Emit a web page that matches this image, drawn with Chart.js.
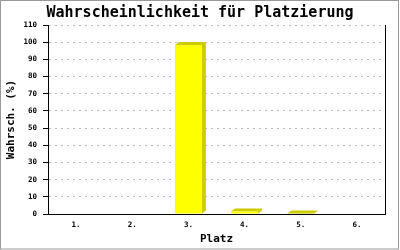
<!DOCTYPE html>
<html>
<head>
<meta charset="utf-8">
<script src="https://cdn.jsdelivr.net/npm/chart.js@4/dist/chart.umd.min.js"></script>
<style>
  html, body { margin: 0; padding: 0; background: #fff; }
  #wrap { width: 400px; height: 250px; }
</style>
</head>
<body>
<div id="wrap"><canvas id="myChart" width="400" height="250"></canvas></div>
<script>
// chart data
const plaetze = ["1.", "2.", "3.", "4.", "5.", "6."];
const wahrsch = [0, 0, 98.4, 1.5, 0.3, 0];
const yTicks = [0, 10, 20, 30, 40, 50, 60, 70, 80, 90, 100, 110];

const MONO = "'DejaVu Sans Mono', 'Liberation Mono', monospace";

// white background and grey frame
const framePlugin = {
	id: "frame",
	beforeDraw(chart) {
		const ctx = chart.ctx;
		ctx.save();
		ctx.fillStyle = "#ffffff";
		ctx.fillRect(0, 0, chart.width, chart.height);
		ctx.strokeStyle = "#999999";
		ctx.lineWidth = 1;
		ctx.strokeRect(0.5, 0.5, chart.width - 2, chart.height - 1.5);
		ctx.restore();
	}
};

// fake 3d depth for the bars
const depthPlugin = {
	id: "depth",
	beforeDatasetsDraw(chart) {
		const ctx = chart.ctx;
		const dx = 4, dy = 3;
		chart.getDatasetMeta(0).data.forEach(function(bar, i) {
			if (!wahrsch[i]) return;
			const x0 = bar.x - bar.width / 2;
			const x1 = bar.x + bar.width / 2;
			const y = bar.y;
			const base = bar.base;
			ctx.save();
			ctx.fillStyle = "#cccc00";
			ctx.beginPath();
			ctx.moveTo(x0, y);
			ctx.lineTo(x0 + dx, y - dy);
			ctx.lineTo(x1 + dx, y - dy);
			ctx.lineTo(x1 + dx, base - dy);
			ctx.lineTo(x1, base);
			ctx.lineTo(x1, y);
			ctx.closePath();
			ctx.fill();
			ctx.restore();
		});
	}
};

const ctx = document.getElementById("myChart").getContext("2d");
const myChart = new Chart(ctx, {
	type: "bar",
	data: {
		labels: plaetze,
		datasets: [{
			data: wahrsch,
			backgroundColor: "#ffff00",
			borderWidth: 0,
			barPercentage: 0.48,
			categoryPercentage: 1.0
		}]
	},
	options: {
		responsive: false,
		animation: false,
		layout: { padding: 0 },
		plugins: {
			legend: { display: false },
			tooltip: { enabled: false },
			title: {
				display: true,
				text: "Wahrscheinlichkeit für Platzierung",
				color: "#000000",
				font: { family: MONO, size: 15, weight: "bold", lineHeight: 1.2 },
				padding: { top: 4, bottom: 3 }
			}
		},
		scales: {
			x: {
				afterFit(scale) { scale.height = 36; },
				grid: { display: false, drawTicks: false },
				border: { display: true, color: "#000000", width: 1 },
				ticks: {
					color: "#000000",
					padding: 7,
					font: { family: MONO, size: 7.5, weight: "bold" }
				},
				title: {
					display: true,
					text: "Platz",
					color: "#000000",
					font: { family: MONO, size: 11, weight: "bold", lineHeight: 1.2 },
					padding: { top: 0, bottom: 4 }
				}
			},
			y: {
				min: 0,
				max: 110,
				afterFit(scale) { scale.width = 48; },
				afterBuildTicks(scale) {
					scale.ticks = yTicks.map(function(v) { return { value: v }; });
				},
				grid: {
					color: function(c) { return c.tick && c.tick.value === 0 ? "rgba(0,0,0,0)" : "#bbbbbb"; },
					tickColor: "#000000",
					tickLength: 5,
					tickBorderDash: [],
					lineWidth: 1
				},
				border: { display: true, color: "#000000", width: 1, dash: [2, 4] },
				ticks: {
					color: "#000000",
					padding: 6,
					font: { family: MONO, size: 7.5, weight: "bold" }
				},
				title: {
					display: true,
					text: "Wahrsch. (%)",
					color: "#000000",
					font: { family: MONO, size: 11, weight: "bold", lineHeight: 1.2 },
					padding: { top: 5, bottom: 0 }
				}
			},
			// empty right axis: gives the right frame line and the right margin
			yRight: {
				type: "linear",
				position: "right",
				min: 0,
				max: 110,
				afterFit(scale) { scale.width = 15; },
				grid: { display: false, drawTicks: false },
				border: { display: true, color: "#000000", width: 1 },
				ticks: { display: false }
			}
		}
	},
	plugins: [framePlugin, depthPlugin]
});
</script>
</body>
</html>
